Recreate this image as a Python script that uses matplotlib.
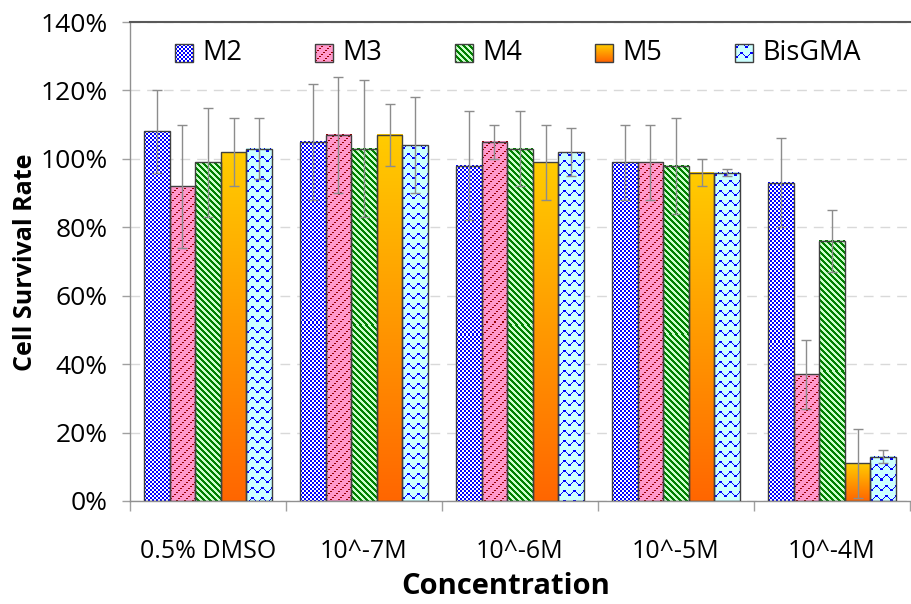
import numpy as np
import matplotlib
matplotlib.use("Agg")
import matplotlib.pyplot as plt
from matplotlib.patches import Rectangle

plt.rcParams['font.family'] = ['Open Sans', 'DejaVu Sans']

categories = ["0.5% DMSO", "10^-7M", "10^-6M", "10^-5M", "10^-4M"]
series = ["M2", "M3", "M4", "M5", "BisGMA"]
m2 = [108, 105, 98, 99, 93]
m3 = [92, 107, 105, 99, 37]
m4 = [99, 103, 103, 98, 76]
m5 = [102, 107, 99, 96, 11]
bisgma = [103, 104, 102, 96, 13]
m2_err = [12, 17, 16, 11, 13]
m3_err = [18, 17, 5, 11, 10]
m4_err = [16, 20, 11, 14, 9]
m5_err = [10, 9, 11, 4, 10]
bisgma_err = [9, 14, 7, 1, 2]

values = [m2, m3, m4, m5, bisgma]
errors = [m2_err, m3_err, m4_err, m5_err, bisgma_err]

W, H = 912, 604
fig = plt.figure(figsize=(W / 100, H / 100), dpi=100)
L, R, T, B = 130, 910, 22, 501
ax = fig.add_axes([L / W, (H - B) / H, (R - L) / W, (B - T) / H])


def col(*c):
    return np.array(c, dtype=float) / 255.0


WAVE = np.zeros((10, 10), bool)
for r, c in [(0, 6), (0, 7), (0, 8), (1, 6), (1, 7), (1, 8),
             (2, 5), (2, 9), (3, 0), (3, 4),
             (4, 1), (4, 2), (4, 3), (5, 1), (5, 2), (5, 3)]:
    WAVE[r, c] = True


def tex(kind, h, w):
    y, x = np.mgrid[0:h, 0:w]
    if kind == 0:
        m = ((x // 2) + (y // 2)) % 2 == 0
        return np.where(m[..., None], col(0, 0, 255), col(255, 255, 255))
    if kind == 1:
        m = (((x + y) % 8) < 2) & (((x - y) // 2) % 2 == 0)
        return np.where(m[..., None], col(150, 0, 0), col(255, 153, 204))
    if kind == 2:
        m = ((x - y) % 6) < 3
        return np.where(m[..., None], col(0, 128, 0), col(204, 255, 204))
    if kind == 3:
        t = np.linspace(0, 1, max(h, 2))[:, None]
        top = col(255, 204, 0)
        bot = col(255, 102, 0)
        g = top[None, None, :] * (1 - t[..., None]) + bot[None, None, :] * t[..., None]
        return np.repeat(g, max(w, 1), axis=1)
    m = WAVE[(y + 2) % 10, (x + 1) % 10]
    return np.where(m[..., None], col(0, 0, 255), col(204, 255, 255))


n = len(series)
bw = 0.164
xs = np.arange(len(categories))
ax.set_xlim(-0.5, len(categories) - 0.5)
ax.set_ylim(0, 140)

px_per_x = (R - L) / len(categories)
px_per_y = (B - T) / 140.0

for i, (vals, errs) in enumerate(zip(values, errors)):
    pos = xs + (i - (n - 1) / 2) * bw
    bars = ax.bar(pos, vals, width=bw, facecolor='none', edgecolor='#404040',
                  linewidth=1.0, zorder=3)
    for rect, v in zip(bars, vals):
        x0 = rect.get_x()
        w_px = int(round(bw * px_per_x))
        h_px = max(int(round(v * px_per_y)), 2)
        img = tex(i, h_px, w_px)
        ax.imshow(img, extent=(x0, x0 + bw, 0, v), aspect='auto',
                  interpolation='nearest' if i != 3 else 'bilinear', zorder=2)
    ax.errorbar(pos, vals, yerr=errs, fmt='none', ecolor='#8c8c8c',
                elinewidth=1.0, capsize=3.5, capthick=1.0, zorder=4)

ax.set_xlim(-0.5, len(categories) - 0.5)
ax.set_ylim(0, 140)

ax.set_yticks(np.arange(0, 141, 20))
ax.set_yticklabels([f"{v}%" for v in range(0, 141, 20)])
ax.yaxis.grid(True, color='#d9d9d9', linestyle=(0, (7, 5)), linewidth=1.0, zorder=0)
ax.set_axisbelow(True)

ax.set_xticks(xs)
ax.set_xticklabels(categories)
ax.set_xticks(np.arange(-0.5, len(categories), 1), minor=True)
ax.tick_params(axis='x', which='major', length=0, pad=27, labelsize=18, colors='black')
ax.tick_params(axis='x', which='minor', length=7, color='#a0a0a0', width=1)
ax.tick_params(axis='y', length=6, color='#a0a0a0', width=1, pad=10, labelsize=19)

for s in ['left', 'bottom']:
    ax.spines[s].set_color('#909090')
    ax.spines[s].set_linewidth(1.0)
ax.spines['top'].set_color('#595959')
ax.spines['top'].set_linewidth(1.5)
ax.spines['right'].set_visible(False)

fig.text(26 / W, (H - 262) / H, "Cell Survival Rate", fontsize=18, fontweight='bold',
         rotation=90, ha='center', va='center')
fig.text(506 / W, (H - 586) / H, "Concentration", fontsize=21, fontweight='bold',
         ha='center', va='center')

icon = 18
for i, name in enumerate(series):
    xo = 175 + 140 * i
    ytop = 44
    img = tex(i, icon, icon)
    fig.figimage(img, xo=xo, yo=H - ytop - icon, origin='upper', zorder=5)
    fig.patches.append(Rectangle((xo / W, (H - ytop - icon) / H), icon / W, icon / H,
                                 transform=fig.transFigure, facecolor='none',
                                 edgecolor='#404040', linewidth=1.0, zorder=6))
    fig.text((xo + icon + 9) / W, (H - ytop - icon / 2) / H, name, fontsize=19.5,
             va='center', ha='left')

fig.savefig("out.png", dpi=100)
